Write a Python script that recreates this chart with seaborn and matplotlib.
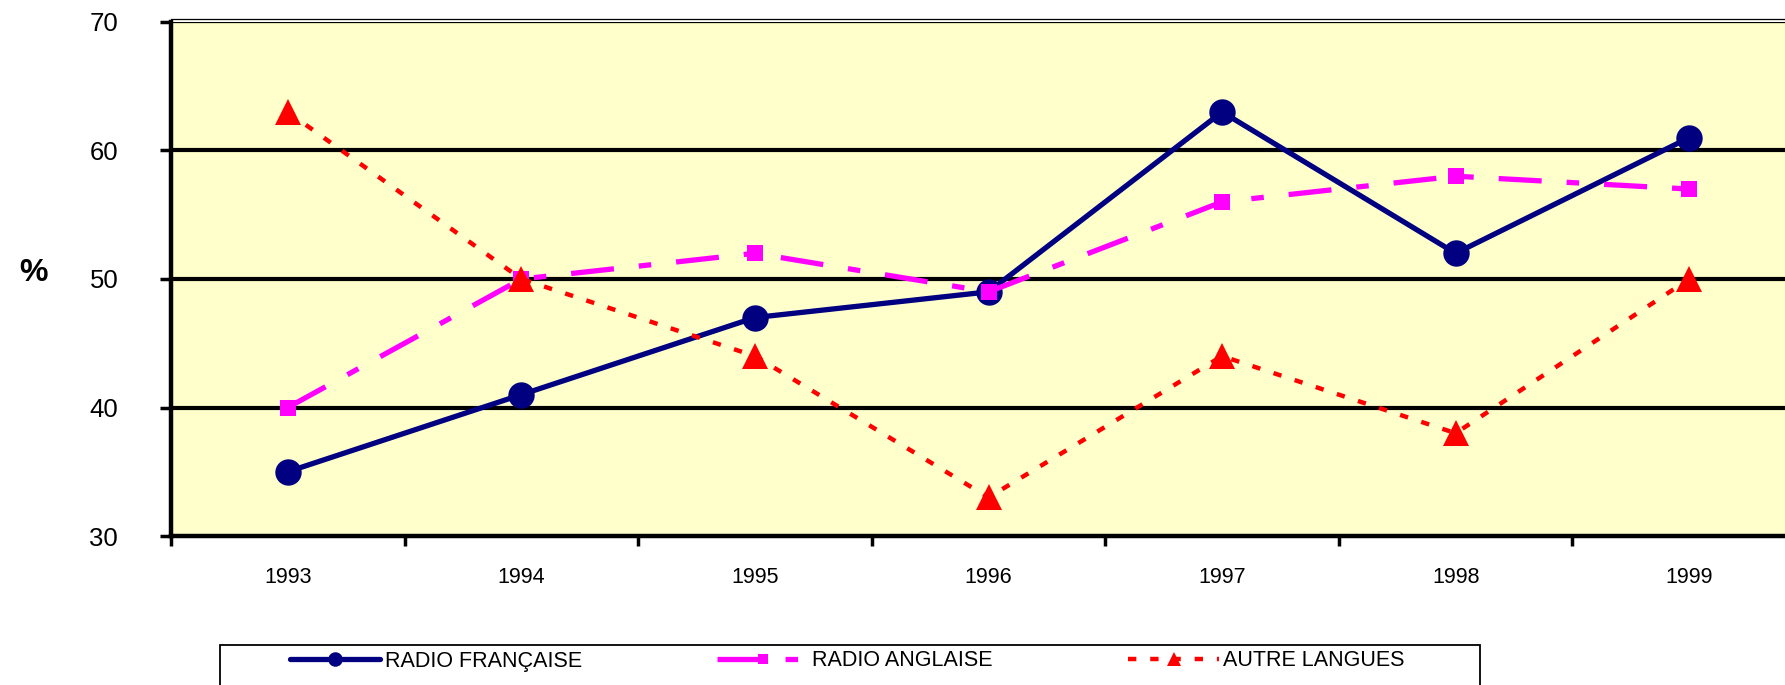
import matplotlib
matplotlib.use("Agg")
import matplotlib.pyplot as plt
import seaborn as sns
import pandas as pd
from matplotlib.patches import Rectangle

years = [1993, 1994, 1995, 1996, 1997, 1998, 1999]
radio_francaise = [35, 41, 47, 49, 63, 52, 61]
radio_anglaise = [40, 50, 52, 49, 56, 58, 57]
autre_langues = [63, 50, 44, 33, 44, 38, 50]
series_names = ["RADIO FRANÇAISE", "RADIO ANGLAISE", "AUTRE LANGUES"]
y_ticks = [30, 40, 50, 60, 70]

sns.set_theme(style="white")
plt.rcParams["font.family"] = ["Liberation Sans", "DejaVu Sans"]
plt.rcParams["lines.scale_dashes"] = False
plt.rcParams["text.color"] = "black"
plt.rcParams["xtick.labelcolor"] = "black"
plt.rcParams["ytick.labelcolor"] = "black"

df = pd.DataFrame({
    "year": years * 3,
    "value": radio_francaise + radio_anglaise + autre_langues,
    "series": [series_names[0]] * 7 + [series_names[1]] * 7 + [series_names[2]] * 7,
})

fig = plt.figure(figsize=(17.85, 6.85), dpi=100)
fig.patch.set_facecolor("white")
ax = fig.add_axes([171 / 1785, 149 / 685, 1635 / 1785, 514 / 685])
ax.set_facecolor("#FFFFCC")

styles = {
    series_names[0]: dict(color="#000080", lw=3.8, marker="o", markersize=19,
                          dashes=None),
    series_names[1]: dict(color="#FF00FF", lw=3.8, marker="s", markersize=12,
                          dashes=(31, 18, 9, 18)),
    series_names[2]: dict(color="#FF0000", lw=3.2, marker="^", markersize=19,
                          dashes=(6, 10)),
}

handles = []
for name in series_names:
    st = styles[name]
    sub = df[df["series"] == name]
    sns.lineplot(x="year", y="value", data=sub, ax=ax, color=st["color"],
                 linewidth=st["lw"], marker=st["marker"], markersize=st["markersize"],
                 markeredgewidth=0, markerfacecolor=st["color"], label=name)
    line = ax.get_lines()[-1]
    if st["dashes"] is not None:
        line.set_dashes(st["dashes"])
    line.set_zorder(3)
    handles.append(line)

ax.set_xlim(1992.5, 1999.5)
ax.set_ylim(30, 70)
ax.set_yticks(y_ticks)
ax.set_yticklabels([str(v) for v in y_ticks])

# category boundaries carry the tick marks, centres carry the year labels
ax.set_xticks([y - 0.5 for y in years] + [years[-1] + 0.5])
ax.set_xticklabels([])
ax.set_xticks(years, minor=True)
ax.set_xticklabels([str(y) for y in years], minor=True)
ax.tick_params(axis="x", which="major", direction="out", length=7, width=2.5,
               color="black", bottom=True)
ax.tick_params(axis="x", which="minor", length=0, pad=22, bottom=True,
               labelsize=15.5, labelcolor="black")
ax.tick_params(axis="y", direction="out", length=8, width=2.5, color="black",
               pad=30, left=True, labelsize=18.5, labelcolor="black")

ax.grid(False)
for yv in [40, 50, 60]:
    ax.axhline(yv, color="black", lw=3.0, zorder=1)

ax.spines["left"].set_linewidth(3.2)
ax.spines["left"].set_color("black")
ax.spines["bottom"].set_linewidth(3.2)
ax.spines["bottom"].set_color("black")
ax.spines["right"].set_visible(False)
ax.spines["top"].set_linewidth(0.9)
ax.spines["top"].set_color("black")
ax.spines["top"].set_position(("outward", 2))
ax.axhline(70, color="black", lw=0.9, zorder=1)

ax.set_xlabel("")
ax.set_ylabel("")
fig.text(33 / 1785, 1 - 273 / 685, "%", fontsize=23, fontweight="bold",
         ha="center", va="center", color="black")

if ax.get_legend() is not None:
    ax.get_legend().remove()

fig.patches.append(Rectangle((220 / 1785, -0.05), 1260 / 1785, 0.05 + 1 - 645 / 685,
                             transform=fig.transFigure, fill=False,
                             edgecolor="black", lw=1.3))
fig.legend(handles=handles, labels=series_names, loc="center left",
           bbox_to_anchor=(290 / 1785, 1 - 661 / 685), ncol=3, frameon=False,
           fontsize=15.5, handlelength=4.2, handletextpad=0.2, columnspacing=6.3,
           borderpad=0, borderaxespad=0, numpoints=1, markerscale=0.55,
           labelcolor="black")

fig.savefig("out.png", dpi=100, facecolor="white")
